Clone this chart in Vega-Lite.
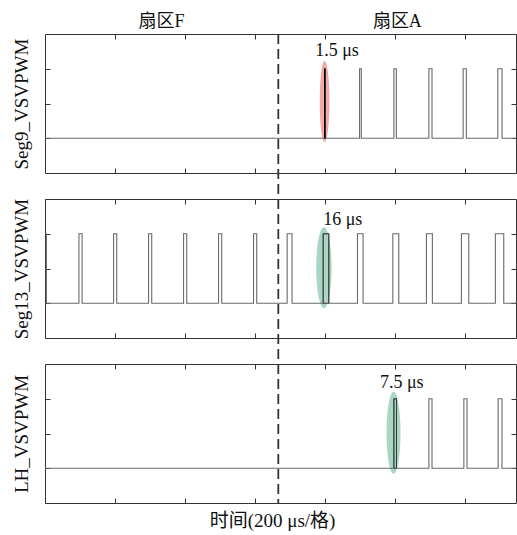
{
  "$schema": "https://vega.github.io/schema/vega-lite/v6.json",
  "autosize": {"type": "pad"},
  "padding": {"left": 11, "top": 12, "right": 0, "bottom": 0},
  "background": "white",
  "bounds": "flush",
  "spacing": 26,
  "config": {
    "font": "Liberation Serif, Noto Sans CJK SC",
    "view": {"stroke": "#333333", "strokeWidth": 1},
    "axis": {
      "labels": false,
      "domain": false,
      "grid": false,
      "tickSize": -5,
      "tickColor": "#333333",
      "tickWidth": 1,
      "titleFont": "Liberation Serif, Noto Sans CJK SC",
      "titleFontSize": 19,
      "titleFontWeight": "normal",
      "titleColor": "#111111",
      "titlePadding": 13
    }
  },
  "datasets": {
    "wave": [
      {"sig": "Seg9", "t": 0, "v": 0},
      {"sig": "Seg9", "t": 799, "v": 1},
      {"sig": "Seg9", "t": 800.5, "v": 0},
      {"sig": "Seg9", "t": 899, "v": 1},
      {"sig": "Seg9", "t": 904, "v": 0},
      {"sig": "Seg9", "t": 997, "v": 1},
      {"sig": "Seg9", "t": 1004, "v": 0},
      {"sig": "Seg9", "t": 1097, "v": 1},
      {"sig": "Seg9", "t": 1106, "v": 0},
      {"sig": "Seg9", "t": 1195, "v": 1},
      {"sig": "Seg9", "t": 1204, "v": 0},
      {"sig": "Seg9", "t": 1294, "v": 1},
      {"sig": "Seg9", "t": 1306, "v": 0},
      {"sig": "Seg9", "t": 1346, "v": 0},
      {"sig": "Seg13", "t": 0, "v": 1},
      {"sig": "Seg13", "t": 4, "v": 0},
      {"sig": "Seg13", "t": 97, "v": 1},
      {"sig": "Seg13", "t": 106, "v": 0},
      {"sig": "Seg13", "t": 196, "v": 1},
      {"sig": "Seg13", "t": 205, "v": 0},
      {"sig": "Seg13", "t": 296, "v": 1},
      {"sig": "Seg13", "t": 305, "v": 0},
      {"sig": "Seg13", "t": 396, "v": 1},
      {"sig": "Seg13", "t": 405, "v": 0},
      {"sig": "Seg13", "t": 496, "v": 1},
      {"sig": "Seg13", "t": 505, "v": 0},
      {"sig": "Seg13", "t": 596, "v": 1},
      {"sig": "Seg13", "t": 605, "v": 0},
      {"sig": "Seg13", "t": 692, "v": 1},
      {"sig": "Seg13", "t": 706, "v": 0},
      {"sig": "Seg13", "t": 795, "v": 1},
      {"sig": "Seg13", "t": 811, "v": 0},
      {"sig": "Seg13", "t": 893, "v": 1},
      {"sig": "Seg13", "t": 909, "v": 0},
      {"sig": "Seg13", "t": 994, "v": 1},
      {"sig": "Seg13", "t": 1011, "v": 0},
      {"sig": "Seg13", "t": 1090, "v": 1},
      {"sig": "Seg13", "t": 1107, "v": 0},
      {"sig": "Seg13", "t": 1190, "v": 1},
      {"sig": "Seg13", "t": 1211, "v": 0},
      {"sig": "Seg13", "t": 1287, "v": 1},
      {"sig": "Seg13", "t": 1311, "v": 0},
      {"sig": "Seg13", "t": 1346, "v": 0},
      {"sig": "LH", "t": 0, "v": 0},
      {"sig": "LH", "t": 997, "v": 1},
      {"sig": "LH", "t": 1004.5, "v": 0},
      {"sig": "LH", "t": 1097, "v": 1},
      {"sig": "LH", "t": 1106, "v": 0},
      {"sig": "LH", "t": 1197, "v": 1},
      {"sig": "LH", "t": 1206, "v": 0},
      {"sig": "LH", "t": 1295, "v": 1},
      {"sig": "LH", "t": 1306, "v": 0},
      {"sig": "LH", "t": 1346, "v": 0}
    ],
    "hot": [
      {"sig": "Seg9", "t0": 799, "t1": 800.5},
      {"sig": "Seg13", "t0": 795, "t1": 811},
      {"sig": "LH", "t0": 997, "t1": 1004.5}
    ],
    "oval": [
      {"sig": "Seg9", "t": 799, "v": 0.53},
      {"sig": "Seg13", "t": 797, "v": 0.51},
      {"sig": "LH", "t": 996, "v": 0.51}
    ],
    "note": [
      {"sig": "Seg9", "t": 772, "v": 1.255, "text": "1.5 μs"},
      {"sig": "Seg13", "t": 795, "v": 1.2, "text": "16 μs"},
      {"sig": "LH", "t": 957, "v": 1.227, "text": "7.5 μs"}
    ],
    "edge": [{"t": 666.7}],
    "sector": [
      {"t": 333, "label": "扇区F"},
      {"t": 1007, "label": "扇区A"}
    ]
  },
  "vconcat": [
    {
      "width": 471,
      "height": 139,
      "resolve": {"axis": {"x": "independent", "y": "independent"}},
      "layer": [
        {
          "data": {"name": "oval"},
          "transform": [{"filter": "datum.sig == 'Seg9'"}],
          "mark": {"type": "point", "shape": "M0,-1A0.12,1 0 1 1 0,1A0.12,1 0 1 1 0,-1Z", "size": 6561, "filled": true, "fill": "#f4aaa4", "opacity": 1, "strokeWidth": 0},
          "encoding": {
            "x": {"field": "t", "type": "quantitative", "axis": null},
            "y": {"field": "v", "type": "quantitative", "axis": null}
          }
        },
        {
          "data": {"name": "wave"},
          "transform": [{"filter": "datum.sig == 'Seg9'"}],
          "mark": {"type": "line", "interpolate": "step-after", "color": "#6a6a6a", "strokeWidth": 1.1},
          "encoding": {
            "x": {"field": "t", "type": "quantitative", "scale": {"domain": [0, 1346], "nice": false, "zero": false}, "axis": {"orient": "bottom", "values": [0, 200, 400, 600, 800, 1000, 1200], "title": null}},
            "y": {"field": "v", "type": "quantitative", "scale": {"domain": [-0.5, 1.5], "nice": false, "zero": false}, "axis": {"orient": "left", "values": [0, 0.5, 1], "title": "Seg9_VSVPWM"}}
          }
        },
        {
          "data": {"name": "hot"},
          "transform": [{"filter": "datum.sig == 'Seg9'"}],
          "mark": {"type": "rect", "filled": false, "stroke": "#000000", "strokeWidth": 1},
          "encoding": {
            "x": {"field": "t0", "type": "quantitative", "axis": {"orient": "top", "values": [0, 200, 400, 600, 800, 1000, 1200], "title": null}},
            "x2": {"field": "t1"},
            "y": {"datum": 0, "type": "quantitative", "axis": {"orient": "right", "values": [0, 0.5, 1], "title": null}},
            "y2": {"datum": 1}
          }
        },
        {
          "data": {"name": "edge"},
          "mark": {"type": "rule", "strokeDash": [10, 5], "strokeWidth": 1.8, "color": "#333333", "y2Offset": 26},
          "encoding": {
            "x": {"field": "t", "type": "quantitative", "axis": null},
            "y": {"datum": 1.5, "type": "quantitative", "axis": null},
            "y2": {"datum": -0.5}
          }
        },
        {
          "data": {"name": "note"},
          "transform": [{"filter": "datum.sig == 'Seg9'"}],
          "mark": {"type": "text", "align": "left", "baseline": "middle", "fontSize": 18, "color": "#111111"},
          "encoding": {
            "x": {"field": "t", "type": "quantitative", "axis": null},
            "y": {"field": "v", "type": "quantitative", "axis": null},
            "text": {"field": "text"}
          }
        },
        {
          "data": {"name": "sector"},
          "mark": {"type": "text", "align": "center", "baseline": "middle", "dy": -12, "fontSize": 18, "color": "#111111"},
          "encoding": {
            "x": {"field": "t", "type": "quantitative", "axis": null},
            "y": {"datum": 1.5, "type": "quantitative", "axis": null},
            "text": {"field": "label"}
          }
        }
      ]
    },
    {
      "width": 471,
      "height": 139,
      "resolve": {"axis": {"x": "independent", "y": "independent"}},
      "layer": [
        {
          "data": {"name": "oval"},
          "transform": [{"filter": "datum.sig == 'Seg13'"}],
          "mark": {"type": "point", "shape": "M0,-1A0.19,1 0 1 1 0,1A0.19,1 0 1 1 0,-1Z", "size": 6561, "filled": true, "fill": "#a8d7c3", "opacity": 1, "strokeWidth": 0},
          "encoding": {
            "x": {"field": "t", "type": "quantitative", "axis": null},
            "y": {"field": "v", "type": "quantitative", "axis": null}
          }
        },
        {
          "data": {"name": "wave"},
          "transform": [{"filter": "datum.sig == 'Seg13'"}],
          "mark": {"type": "line", "interpolate": "step-after", "color": "#6a6a6a", "strokeWidth": 1.1},
          "encoding": {
            "x": {"field": "t", "type": "quantitative", "scale": {"domain": [0, 1346], "nice": false, "zero": false}, "axis": {"orient": "bottom", "values": [0, 200, 400, 600, 800, 1000, 1200], "title": null}},
            "y": {"field": "v", "type": "quantitative", "scale": {"domain": [-0.5, 1.5], "nice": false, "zero": false}, "axis": {"orient": "left", "values": [0, 0.5, 1], "title": "Seg13_VSVPWM"}}
          }
        },
        {
          "data": {"name": "hot"},
          "transform": [{"filter": "datum.sig == 'Seg13'"}],
          "mark": {"type": "rect", "filled": false, "stroke": "#3a3a3a", "strokeWidth": 1},
          "encoding": {
            "x": {"field": "t0", "type": "quantitative", "axis": {"orient": "top", "values": [0, 200, 400, 600, 800, 1000, 1200], "title": null}},
            "x2": {"field": "t1"},
            "y": {"datum": 0, "type": "quantitative", "axis": {"orient": "right", "values": [0, 0.5, 1], "title": null}},
            "y2": {"datum": 1}
          }
        },
        {
          "data": {"name": "edge"},
          "mark": {"type": "rule", "strokeDash": [10, 5], "strokeWidth": 1.8, "color": "#333333", "y2Offset": 26},
          "encoding": {
            "x": {"field": "t", "type": "quantitative", "axis": null},
            "y": {"datum": 1.5, "type": "quantitative", "axis": null},
            "y2": {"datum": -0.5}
          }
        },
        {
          "data": {"name": "note"},
          "transform": [{"filter": "datum.sig == 'Seg13'"}],
          "mark": {"type": "text", "align": "left", "baseline": "middle", "fontSize": 18, "color": "#111111"},
          "encoding": {
            "x": {"field": "t", "type": "quantitative", "axis": null},
            "y": {"field": "v", "type": "quantitative", "axis": null},
            "text": {"field": "text"}
          }
        }
      ]
    },
    {
      "width": 471,
      "height": 139,
      "resolve": {"axis": {"x": "independent", "y": "independent"}},
      "layer": [
        {
          "data": {"name": "oval"},
          "transform": [{"filter": "datum.sig == 'LH'"}],
          "mark": {"type": "point", "shape": "M0,-1A0.17,1 0 1 1 0,1A0.17,1 0 1 1 0,-1Z", "size": 6724, "filled": true, "fill": "#a8d7c3", "opacity": 1, "strokeWidth": 0},
          "encoding": {
            "x": {"field": "t", "type": "quantitative", "axis": null},
            "y": {"field": "v", "type": "quantitative", "axis": null}
          }
        },
        {
          "data": {"name": "wave"},
          "transform": [{"filter": "datum.sig == 'LH'"}],
          "mark": {"type": "line", "interpolate": "step-after", "color": "#6a6a6a", "strokeWidth": 1.1},
          "encoding": {
            "x": {"field": "t", "type": "quantitative", "scale": {"domain": [0, 1346], "nice": false, "zero": false}, "axis": {"orient": "bottom", "values": [0, 200, 400, 600, 800, 1000, 1200], "title": "时间(200 μs/格)", "titleFontSize": 19, "titlePadding": 8, "titleX": 227}},
            "y": {"field": "v", "type": "quantitative", "scale": {"domain": [-0.5, 1.5], "nice": false, "zero": false}, "axis": {"orient": "left", "values": [0, 0.5, 1], "title": "LH_VSVPWM"}}
          }
        },
        {
          "data": {"name": "hot"},
          "transform": [{"filter": "datum.sig == 'LH'"}],
          "mark": {"type": "rect", "filled": false, "stroke": "#3a3a3a", "strokeWidth": 1},
          "encoding": {
            "x": {"field": "t0", "type": "quantitative", "axis": {"orient": "top", "values": [0, 200, 400, 600, 800, 1000, 1200], "title": null}},
            "x2": {"field": "t1"},
            "y": {"datum": 0, "type": "quantitative", "axis": {"orient": "right", "values": [0, 0.5, 1], "title": null}},
            "y2": {"datum": 1}
          }
        },
        {
          "data": {"name": "edge"},
          "mark": {"type": "rule", "strokeDash": [10, 5], "strokeWidth": 1.8, "color": "#333333"},
          "encoding": {
            "x": {"field": "t", "type": "quantitative", "axis": null},
            "y": {"datum": 1.5, "type": "quantitative", "axis": null},
            "y2": {"datum": -0.5}
          }
        },
        {
          "data": {"name": "note"},
          "transform": [{"filter": "datum.sig == 'LH'"}],
          "mark": {"type": "text", "align": "left", "baseline": "middle", "fontSize": 18, "color": "#111111"},
          "encoding": {
            "x": {"field": "t", "type": "quantitative", "axis": null},
            "y": {"field": "v", "type": "quantitative", "axis": null},
            "text": {"field": "text"}
          }
        }
      ]
    }
  ]
}
